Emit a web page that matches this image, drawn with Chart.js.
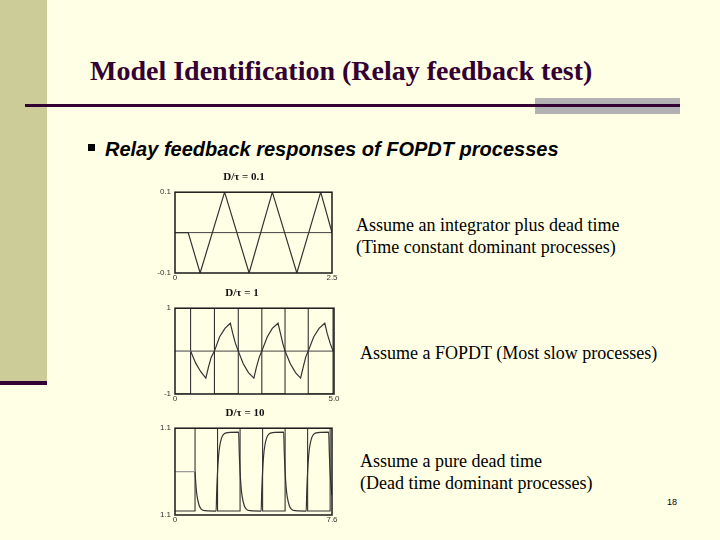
<!DOCTYPE html>
<html lang="en">
  <head>
    <meta charset="UTF-8" />
    <title>Model Identification (Relay feedback test)</title>
    <style>
      body {
        margin: 0;
        width: 720px;
        height: 540px;
        background: #ffffe5;
        position: relative;
        overflow: hidden;
      }

      .sidebar {
        position: absolute;
        left: 0;
        top: 0;
        width: 47px;
        height: 382px;
        background: #cccc99;
      }

      .sidebar-rule {
        position: absolute;
        left: 0;
        top: 381px;
        width: 47px;
        height: 4px;
        background: #330033;
      }

      .title {
        position: absolute;
        left: 90px;
        top: 55px;
        font: bold 28px/32px "Liberation Serif", serif;
        color: #330033;
        white-space: nowrap;
      }

      .grey-block {
        position: absolute;
        left: 535px;
        top: 98px;
        width: 145px;
        height: 16px;
        background: #b2b2b2;
      }

      .rule {
        position: absolute;
        left: 25px;
        top: 104px;
        width: 655px;
        height: 3px;
        background: #330033;
      }

      .bullet {
        position: absolute;
        left: 88px;
        top: 144px;
        width: 7px;
        height: 7px;
        background: #000;
      }

      .subtitle {
        position: absolute;
        left: 105px;
        top: 137px;
        font: italic bold 20px/24px "Liberation Sans", Arial, sans-serif;
        color: #000;
        white-space: nowrap;
      }

      .note {
        position: absolute;
        font: 18px/22px "Liberation Serif", serif;
        color: #000;
        white-space: nowrap;
      }

      .page {
        position: absolute;
        left: 667px;
        top: 497px;
        font: 9px/10px "Liberation Sans", Arial, sans-serif;
        color: #000;
      }

      canvas {
        position: absolute;
      }
    </style>
    <script src="https://cdn.jsdelivr.net/npm/chart.js"></script>
  </head>
  <body>
    <div class="sidebar"></div>
    <div class="sidebar-rule"></div>
    <div class="title">Model Identification (Relay feedback test)</div>
    <div class="grey-block"></div>
    <div class="rule"></div>
    <div class="bullet"></div>
    <div class="subtitle">Relay feedback responses of FOPDT processes</div>

    <canvas id="chart1" width="210" height="122" style="left: 135px; top: 165px"></canvas>
    <canvas id="chart2" width="210" height="127" style="left: 135px; top: 281px"></canvas>
    <canvas id="chart3" width="210" height="128" style="left: 135px; top: 401px"></canvas>

    <div class="note" style="left: 356px; top: 214px">
      Assume an integrator plus dead time<br />(Time constant dominant processes)
    </div>
    <div class="note" style="left: 360px; top: 342px">
      Assume a FOPDT (Most slow processes)
    </div>
    <div class="note" style="left: 360px; top: 450px">
      Assume a pure dead time<br />(Dead time dominant processes)
    </div>
    <div class="page">18</div>

    <script>
      // D/tau = 0.1 : triangle-like response
      const chart1Times = [0, 0.21, 0.4, 0.79, 1.18, 1.55, 1.94, 2.32, 2.5];
      const chart1Values = [0, 0, -0.1, 0.1, -0.1, 0.1, -0.1, 0.1, 0];
      const chart1XLabels = ["0", "2.5"];
      const chart1YLabels = ["-0.1", "0.1"]; // bottom, top

      // D/tau = 1
      const chart2Times = [
        0.49, 0.65, 0.81, 0.97, 1.05, 1.14, 1.24, 1.4, 1.57, 1.74, 1.82, 1.9,
        1.99, 2.15, 2.31, 2.48, 2.56, 2.65, 2.73, 2.9, 3.06, 3.24, 3.32, 3.39,
        3.46, 3.63, 3.79, 3.95, 4.03, 4.11, 4.19, 4.36, 4.53, 4.71, 4.79, 4.88,
        4.97,
      ];
      const chart2Values = [
        0, -0.28, -0.48, -0.63, -0.38, -0.14, 0, 0.33, 0.53, 0.65, 0.4, 0.18,
        0, -0.3, -0.5, -0.63, -0.38, -0.14, 0, 0.33, 0.53, 0.65, 0.4, 0.18, 0,
        -0.3, -0.5, -0.63, -0.38, -0.14, 0, 0.33, 0.53, 0.65, 0.4, 0.18, 0,
      ];
      const chart2RelayTimes = [0, 0.49, 1.24, 1.99, 2.73, 3.46, 4.19, 4.97, 5.0];
      const chart2RelayValues = [-1, 1, -1, 1, -1, 1, -1, 1, 1];
      const chart2DeadTime = [0, 0.49];
      const chart2XLabels = ["0", "5.0"];
      const chart2YLabels = ["-1", "1"];

      // D/tau = 10
      const chart3Times = [
        0.97, 1.02, 1.07, 1.17, 1.27, 1.47,
        1.99, 2.02, 2.06, 2.11, 2.16, 2.26, 2.36, 2.56,
        3.08, 3.11, 3.15, 3.2, 3.25, 3.35, 3.45, 3.65,
        4.17, 4.2, 4.24, 4.29, 4.34, 4.44, 4.54, 4.74,
        5.26, 5.29, 5.33, 5.38, 5.43, 5.53, 5.63, 5.83,
        6.35, 6.38, 6.42, 6.47, 6.52, 6.62, 6.72, 6.92,
        7.44, 7.47, 7.51, 7.56, 7.6,
      ];
      const chart3Values = [
        0, -0.39, -0.63, -0.86, -0.95, -0.99,
        -1, -0.48, 0, 0.4, 0.63, 0.86, 0.95, 0.99,
        1, 0.48, 0, -0.4, -0.63, -0.86, -0.95, -0.99,
        -1, -0.48, 0, 0.4, 0.63, 0.86, 0.95, 0.99,
        1, 0.48, 0, -0.4, -0.63, -0.86, -0.95, -0.99,
        -1, -0.48, 0, 0.4, 0.63, 0.86, 0.95, 0.99,
        1, 0.48, 0, -0.4, -0.6,
      ];
      // relay top sits on the upper frame in the picture
      const chart3RelayTimes = [0, 0.97, 2.06, 3.15, 4.24, 5.33, 6.42, 7.51, 7.6];
      const chart3RelayValues = [-1, 1.1, -1, 1.1, -1, 1.1, -1, 1.1, 1.1];
      const chart3DeadTime = [0, 0.97];
      const chart3XLabels = ["0", "7.6"];
      const chart3YLabels = ["1.1", "1.1"];

      function toPoints(xs, ys) {
        return xs.map((x, i) => ({ x: x, y: ys[i] }));
      }

      // box around the plot area
      const framePlugin = {
        id: "frame",
        afterDatasetsDraw(chart) {
          const { ctx, chartArea: a } = chart;
          ctx.save();
          ctx.strokeStyle = "#1a1a1a";
          ctx.lineWidth = 1.5;
          ctx.strokeRect(a.left, a.top, a.right - a.left, a.bottom - a.top);
          ctx.restore();
        },
      };

      const tickFont = { family: "Liberation Sans", size: 8 };

      function buildChart(id, opts) {
        return new Chart(document.getElementById(id), {
          type: "line",
          data: { datasets: opts.datasets },
          options: {
            responsive: false,
            animation: false,
            events: [],
            layout: {
              padding: { left: opts.padLeft, right: opts.padRight, top: 0, bottom: 0 },
            },
            plugins: {
              legend: { display: false },
              tooltip: { enabled: false },
              title: {
                display: true,
                text: opts.title,
                color: "#111",
                font: { family: "Liberation Serif", size: 11, weight: "bold", lineHeight: 1.2 },
                padding: { top: 6, bottom: 8 },
              },
            },
            scales: {
              x: {
                type: "linear",
                min: 0,
                max: opts.xMax,
                grid: { display: false, drawTicks: false },
                border: { display: false },
                afterBuildTicks: (axis) => {
                  axis.ticks = [{ value: 0 }, { value: opts.xMax }];
                },
                afterFit: (axis) => {
                  axis.height = 14;
                },
                ticks: {
                  padding: 0,
                  maxRotation: 0,
                  autoSkip: false,
                  color: "#333",
                  font: tickFont,
                  callback: (v, i) => opts.xLabels[i],
                },
              },
              y: {
                type: "linear",
                min: -opts.yMax,
                max: opts.yMax,
                grid: { display: false, drawTicks: false },
                border: { display: false },
                afterBuildTicks: (axis) => {
                  axis.ticks = [{ value: -opts.yMax }, { value: opts.yMax }];
                },
                afterFit: (axis) => {
                  axis.width = 40 - opts.padLeft;
                },
                ticks: {
                  padding: 4,
                  autoSkip: false,
                  color: "#333",
                  font: tickFont,
                  callback: (v, i) => opts.yLabels[i],
                },
              },
            },
          },
          plugins: [framePlugin],
        });
      }

      const lineStyle = {
        borderColor: "#333",
        borderWidth: 1.2,
        pointRadius: 0,
        tension: 0,
        fill: false,
      };

      buildChart("chart1", {
        title: "D/\u03c4 = 0.1",
        xMax: 2.5,
        yMax: 0.1,
        xLabels: chart1XLabels,
        yLabels: chart1YLabels,
        padLeft: 21,
        padRight: 13,
        datasets: [
          { ...lineStyle, label: "Output", data: toPoints(chart1Times, chart1Values) },
          { ...lineStyle, label: "Zero", borderColor: "#444", borderWidth: 1, data: toPoints([0, 2.5], [0, 0]) },
        ],
      });

      buildChart("chart2", {
        title: "D/\u03c4 = 1",
        xMax: 5.0,
        yMax: 1,
        xLabels: chart2XLabels,
        yLabels: chart2YLabels,
        padLeft: 15,
        padRight: 11,
        datasets: [
          { ...lineStyle, label: "Dead time", borderColor: "#999", data: toPoints(chart2DeadTime, [0, 0]) },
          { ...lineStyle, label: "Output", data: toPoints(chart2Times, chart2Values) },
          { ...lineStyle, label: "Relay", borderWidth: 1.1, stepped: true, data: toPoints(chart2RelayTimes, chart2RelayValues) },
          { ...lineStyle, label: "Zero", borderColor: "#444", borderWidth: 1, data: toPoints([0, 5.0], [0, 0]) },
        ],
      });

      buildChart("chart3", {
        title: "D/\u03c4 = 10",
        xMax: 7.6,
        yMax: 1.1,
        xLabels: chart3XLabels,
        yLabels: chart3YLabels,
        padLeft: 23,
        padRight: 13,
        datasets: [
          { ...lineStyle, label: "Dead time", borderColor: "#999", data: toPoints(chart3DeadTime, [0, 0]) },
          { ...lineStyle, label: "Output", cubicInterpolationMode: "monotone", data: toPoints(chart3Times, chart3Values) },
          { ...lineStyle, label: "Relay", borderWidth: 1.1, stepped: true, data: toPoints(chart3RelayTimes, chart3RelayValues) },
        ],
      });
    </script>
  </body>
</html>
